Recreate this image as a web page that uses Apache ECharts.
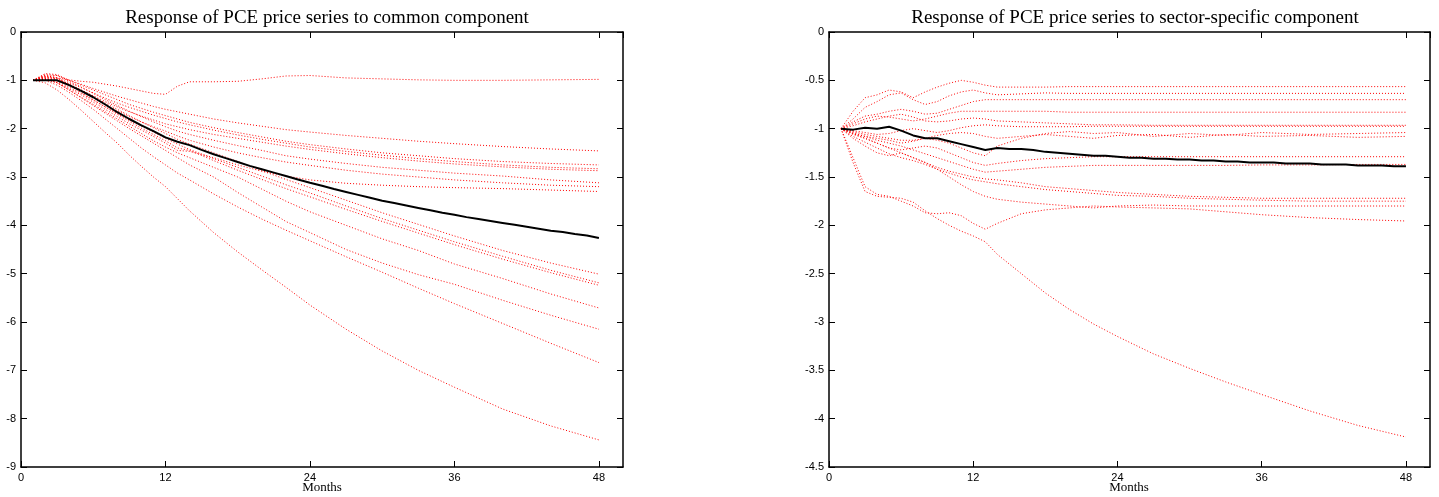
<!DOCTYPE html>
<html>
<head>
<meta charset="utf-8">
<script src="https://cdn.jsdelivr.net/npm/echarts@6/dist/echarts.min.js"></script>
<style>
html,body{margin:0;padding:0;background:#fff;}
#chart{width:1439px;height:497px;}
</style>
</head>
<body>
<div id="chart"></div>
<script>
// ---- data ----
const titles = ['Response of PCE price series to common component', 'Response of PCE price series to sector-specific component'];
const xAxisName = 'Months';
const xTicks = [0, 12, 24, 36, 48];
const monthsAll = [1,2,3,4,5,6,7,8,9,10,11,12,13,14,15,16,17,18,19,20,21,22,23,24,25,26,27,28,29,30,31,32,33,34,35,36,37,38,39,40,41,42,43,44,45,46,47,48];
const monthsRed = [1,2,3,4,5,6,7,8,9,10,11,12,13,14,16,18,20,22,24,27,30,33,36,40,44,48];

// common component: mean response (black)
const commonMean = [-1,-1,-1,-1.1,-1.22,-1.35,-1.5,-1.66,-1.8,-1.93,-2.05,-2.18,-2.27,-2.34,-2.44,-2.53,-2.61,-2.69,-2.77,-2.84,-2.91,-2.98,-3.05,-3.12,-3.18,-3.25,-3.31,-3.37,-3.43,-3.49,-3.54,-3.59,-3.64,-3.69,-3.74,-3.78,-3.83,-3.87,-3.91,-3.95,-3.99,-4.03,-4.07,-4.11,-4.14,-4.18,-4.21,-4.26];
// common component: individual sectors (red dotted)
const cA = [-1,-0.93,-0.95,-0.99,-1.02,-1.04,-1.08,-1.12,-1.17,-1.22,-1.27,-1.29,-1.12,-1.03,-1.03,-1.02,-0.97,-0.91,-0.9,-0.95,-0.97,-0.99,-1.0,-1.0,-0.99,-0.98];
const cB = [-1,-0.88,-0.9,-1.0,-1.08,-1.17,-1.25,-1.33,-1.4,-1.47,-1.54,-1.6,-1.65,-1.7,-1.8,-1.88,-1.95,-2.02,-2.07,-2.14,-2.2,-2.26,-2.31,-2.37,-2.42,-2.46];
const cC = [-1,-0.86,-0.88,-1.0,-1.1,-1.2,-1.3,-1.4,-1.5,-1.58,-1.66,-1.73,-1.8,-1.87,-1.98,-2.08,-2.17,-2.26,-2.33,-2.42,-2.5,-2.56,-2.62,-2.68,-2.72,-2.75];
const cD = [-1,-0.9,-0.95,-1.05,-1.15,-1.26,-1.37,-1.47,-1.56,-1.64,-1.72,-1.79,-1.86,-1.92,-2.03,-2.13,-2.22,-2.3,-2.38,-2.47,-2.55,-2.62,-2.68,-2.75,-2.8,-2.83];
const cE = [-1,-0.95,-0.97,-1.08,-1.2,-1.32,-1.44,-1.55,-1.65,-1.74,-1.82,-1.9,-1.96,-2.02,-2.12,-2.2,-2.28,-2.36,-2.43,-2.52,-2.6,-2.67,-2.73,-2.79,-2.84,-2.87];
const cF = [-1,-0.92,-0.9,-1.02,-1.14,-1.27,-1.4,-1.52,-1.64,-1.75,-1.86,-1.96,-2.05,-2.12,-2.24,-2.35,-2.45,-2.56,-2.63,-2.72,-2.8,-2.86,-2.92,-2.98,-3.06,-3.12];
const cG = [-1,-0.97,-1.0,-1.1,-1.22,-1.36,-1.5,-1.63,-1.75,-1.86,-1.96,-2.05,-2.15,-2.24,-2.38,-2.5,-2.6,-2.69,-2.76,-2.86,-2.94,-3.0,-3.06,-3.12,-3.17,-3.2];
const cH = [-1,-0.98,-1.05,-1.17,-1.3,-1.45,-1.6,-1.75,-1.9,-2.03,-2.16,-2.3,-2.45,-2.47,-2.6,-2.75,-2.88,-2.98,-3.06,-3.13,-3.17,-3.2,-3.22,-3.24,-3.27,-3.3];
const cI = [-1,-0.93,-0.97,-1.08,-1.2,-1.33,-1.47,-1.6,-1.73,-1.86,-1.98,-2.1,-2.22,-2.32,-2.5,-2.68,-2.87,-3.05,-3.22,-3.48,-3.74,-3.98,-4.22,-4.52,-4.78,-5.01];
const cJ = [-1,-0.96,-1.02,-1.14,-1.27,-1.41,-1.55,-1.69,-1.82,-1.95,-2.07,-2.2,-2.32,-2.43,-2.62,-2.8,-2.98,-3.16,-3.33,-3.6,-3.86,-4.1,-4.34,-4.64,-4.93,-5.19];
const cK = [-1,-0.9,-0.95,-1.1,-1.25,-1.4,-1.55,-1.7,-1.85,-1.99,-2.12,-2.25,-2.4,-2.45,-2.66,-2.86,-3.05,-3.24,-3.41,-3.67,-3.92,-4.16,-4.4,-4.7,-4.98,-5.24];
const cL = [-1,-0.98,-1.05,-1.2,-1.35,-1.5,-1.65,-1.8,-1.95,-2.1,-2.25,-2.38,-2.5,-2.6,-2.8,-3.0,-3.25,-3.5,-3.72,-4.0,-4.28,-4.52,-4.8,-5.1,-5.42,-5.71];
const cM = [-1,-0.95,-1.05,-1.2,-1.36,-1.52,-1.68,-1.84,-2.0,-2.15,-2.3,-2.45,-2.6,-2.75,-3.0,-3.32,-3.62,-3.92,-4.15,-4.5,-4.78,-5.02,-5.22,-5.55,-5.86,-6.15];
const cN = [-1,-1.0,-1.1,-1.25,-1.42,-1.6,-1.8,-2.0,-2.2,-2.4,-2.58,-2.75,-2.92,-3.06,-3.35,-3.62,-3.87,-4.1,-4.32,-4.65,-4.97,-5.3,-5.62,-6.03,-6.44,-6.84];
const cO = [-1,-1.05,-1.2,-1.4,-1.62,-1.85,-2.08,-2.3,-2.55,-2.78,-3.0,-3.2,-3.45,-3.7,-4.15,-4.55,-4.92,-5.28,-5.65,-6.15,-6.6,-7.0,-7.35,-7.8,-8.15,-8.44];

// sector-specific component: mean response (black)
const sectorMean = [-1.0,-1.01,-0.99,-1.0,-0.98,-1.02,-1.07,-1.1,-1.1,-1.13,-1.16,-1.19,-1.22,-1.2,-1.21,-1.21,-1.22,-1.24,-1.25,-1.26,-1.27,-1.28,-1.28,-1.29,-1.3,-1.3,-1.31,-1.31,-1.32,-1.32,-1.33,-1.33,-1.34,-1.34,-1.35,-1.35,-1.35,-1.36,-1.36,-1.36,-1.37,-1.37,-1.37,-1.38,-1.38,-1.38,-1.39,-1.39];
// sector-specific component: individual sectors (red dotted)
const sA = [-1,-0.82,-0.68,-0.65,-0.6,-0.62,-0.68,-0.62,-0.57,-0.53,-0.5,-0.52,-0.55,-0.57,-0.57,-0.57,-0.565,-0.565,-0.565,-0.565,-0.565,-0.565,-0.565,-0.565,-0.565,-0.565];
const sB = [-1,-0.9,-0.78,-0.72,-0.65,-0.63,-0.7,-0.75,-0.72,-0.66,-0.62,-0.6,-0.63,-0.65,-0.64,-0.63,-0.635,-0.635,-0.635,-0.635,-0.635,-0.635,-0.635,-0.635,-0.635,-0.635];
const sC = [-1,-0.93,-0.87,-0.85,-0.82,-0.8,-0.82,-0.85,-0.84,-0.8,-0.76,-0.72,-0.7,-0.7,-0.7,-0.7,-0.7,-0.7,-0.7,-0.7,-0.7,-0.7,-0.7,-0.7,-0.7,-0.7];
const sD = [-1,-0.95,-0.9,-0.87,-0.88,-0.9,-0.92,-0.9,-0.87,-0.84,-0.82,-0.82,-0.82,-0.82,-0.82,-0.82,-0.83,-0.83,-0.83,-0.83,-0.83,-0.83,-0.83,-0.83,-0.83,-0.83];
const sE = [-1,-0.97,-0.93,-0.9,-0.87,-0.85,-0.88,-0.92,-0.93,-0.92,-0.9,-0.89,-0.9,-0.92,-0.93,-0.94,-0.95,-0.96,-0.96,-0.965,-0.965,-0.965,-0.965,-0.965,-0.965,-0.965];
const sF = [-1,-1.02,-1.04,-1.06,-1.05,-1.02,-1.0,-1.02,-1.04,-1.02,-0.99,-0.97,-0.96,-0.97,-0.98,-0.98,-0.98,-0.975,-0.975,-0.975,-0.975,-0.975,-0.975,-0.975,-0.975,-0.975];
const sG = [-1,-1.03,-1.06,-1.08,-1.1,-1.12,-1.12,-1.1,-1.12,-1.15,-1.2,-1.25,-1.28,-1.18,-1.1,-1.05,-1.03,-1.05,-1.04,-1.08,-1.05,-1.07,-1.04,-1.06,-1.05,-1.04];
const sH = [-1,-1.05,-1.08,-1.1,-1.12,-1.15,-1.13,-1.1,-1.07,-1.05,-1.04,-1.05,-1.08,-1.1,-1.08,-1.06,-1.08,-1.1,-1.07,-1.06,-1.09,-1.06,-1.08,-1.07,-1.09,-1.08];
const sI = [-1,-1.05,-1.1,-1.15,-1.2,-1.22,-1.2,-1.18,-1.2,-1.25,-1.3,-1.35,-1.38,-1.36,-1.33,-1.31,-1.3,-1.29,-1.29,-1.29,-1.29,-1.29,-1.29,-1.29,-1.29,-1.29];
const sJ = [-1,-1.04,-1.08,-1.12,-1.15,-1.18,-1.22,-1.26,-1.3,-1.34,-1.38,-1.42,-1.45,-1.44,-1.42,-1.4,-1.39,-1.38,-1.38,-1.38,-1.38,-1.38,-1.375,-1.375,-1.37,-1.37];
const sK = [-1,-1.06,-1.1,-1.15,-1.2,-1.25,-1.3,-1.35,-1.4,-1.44,-1.47,-1.5,-1.52,-1.53,-1.56,-1.6,-1.62,-1.64,-1.66,-1.68,-1.7,-1.71,-1.72,-1.72,-1.72,-1.72];
const sL = [-1,-1.08,-1.14,-1.2,-1.26,-1.3,-1.33,-1.37,-1.42,-1.46,-1.5,-1.53,-1.55,-1.57,-1.6,-1.63,-1.65,-1.67,-1.69,-1.7,-1.72,-1.73,-1.74,-1.75,-1.75,-1.75];
const sM = [-1,-1.1,-1.18,-1.25,-1.28,-1.25,-1.3,-1.35,-1.42,-1.5,-1.58,-1.65,-1.7,-1.73,-1.76,-1.78,-1.8,-1.82,-1.8,-1.79,-1.8,-1.8,-1.8,-1.8,-1.8,-1.8];
const sN = [-1,-1.3,-1.6,-1.68,-1.7,-1.75,-1.8,-1.87,-1.88,-1.87,-1.9,-1.98,-2.04,-1.98,-1.88,-1.84,-1.82,-1.8,-1.81,-1.82,-1.83,-1.86,-1.89,-1.92,-1.94,-1.955];
const sO = [-1,-1.35,-1.65,-1.7,-1.71,-1.72,-1.76,-1.85,-1.93,-2.0,-2.06,-2.11,-2.17,-2.3,-2.5,-2.7,-2.87,-3.02,-3.15,-3.33,-3.48,-3.62,-3.75,-3.92,-4.07,-4.19];

const commonRed = [cA,cB,cC,cD,cE,cF,cG,cH,cI,cJ,cK,cL,cM,cN,cO];
const sectorRed = [sA,sB,sC,sD,sE,sF,sG,sH,sI,sJ,sK,sL,sM,sN,sO];

// ---- chart ----
const chart = echarts.init(document.getElementById('chart'), null, {renderer: 'canvas'});
const SANS = 'Liberation Sans, Arial, sans-serif';
const SERIF = 'Liberation Serif, Times New Roman, serif';

function pairs(xs, ys) { return ys.map((v, i) => [xs[i], v]); }

const grids = [
  {left: 21, top: 32, width: 602, height: 435, containLabel: false, outerBoundsMode: 'none'},
  {left: 829, top: 32, width: 601, height: 435, containLabel: false, outerBoundsMode: 'none'}
];
const lineStyleAxis = {color: '#000', width: 1.5};
function xAx(g, pos, show) {
  return {
    type: 'value', gridIndex: g, position: pos, min: 0, max: 50, interval: 12,
    axisLine: {show: true, onZero: false, lineStyle: lineStyleAxis},
    axisTick: {show: true, inside: true, length: 6, lineStyle: {color: '#000', width: 1}},
    splitLine: {show: false},
    axisLabel: {show: show, color: '#000', fontFamily: SANS, fontSize: 11, margin: 5, showMaxLabel: false,
      formatter: v => (xTicks.indexOf(v) >= 0 ? String(v) : '')}
  };
}
function yAx(g, pos, show, min, interval) {
  return {
    type: 'value', gridIndex: g, position: pos, min: min, max: 0, interval: interval,
    axisLine: {show: true, onZero: false, lineStyle: lineStyleAxis},
    axisTick: {show: true, inside: true, length: 6, lineStyle: {color: '#000', width: 1}},
    splitLine: {show: false},
    axisLabel: {show: show, color: '#000', fontFamily: SANS, fontSize: 11, margin: 5}
  };
}

const redStyle = {color: '#ff0000', width: 1, type: [1, 2]};
const series = [];
commonRed.forEach(arr => series.push({
  type: 'line', xAxisIndex: 0, yAxisIndex: 0, data: pairs(monthsRed, arr), symbol: 'none',
  lineStyle: redStyle, silent: true, z: 2
}));
series.push({type: 'line', xAxisIndex: 0, yAxisIndex: 0, data: pairs(monthsAll, commonMean), symbol: 'none',
  lineStyle: {color: '#000', width: 2}, z: 3});
sectorRed.forEach(arr => series.push({
  type: 'line', xAxisIndex: 2, yAxisIndex: 2, data: pairs(monthsRed, arr), symbol: 'none',
  lineStyle: redStyle, silent: true, z: 2
}));
series.push({type: 'line', xAxisIndex: 2, yAxisIndex: 2, data: pairs(monthsAll, sectorMean), symbol: 'none',
  lineStyle: {color: '#000', width: 2}, z: 3});

chart.setOption({
  animation: false,
  backgroundColor: '#fff',
  title: [
    {text: titles[0], left: 322, top: 4, textAlign: 'center',
      textStyle: {fontFamily: SERIF, fontSize: 19, fontWeight: 'normal', color: '#000'}},
    {text: titles[1], left: 1130, top: 4, textAlign: 'center',
      textStyle: {fontFamily: SERIF, fontSize: 19, fontWeight: 'normal', color: '#000'}}
  ],
  graphic: [
    {type: 'text', x: 322, y: 488, style: {text: xAxisName, fontFamily: SERIF, fontSize: 13, fill: '#000', textAlign: 'center', textVerticalAlign: 'middle'}},
    {type: 'text', x: 1129, y: 488, style: {text: xAxisName, fontFamily: SERIF, fontSize: 13, fill: '#000', textAlign: 'center', textVerticalAlign: 'middle'}}
  ],
  grid: grids,
  xAxis: [xAx(0, 'bottom', true), xAx(0, 'top', false), xAx(1, 'bottom', true), xAx(1, 'top', false)],
  yAxis: [yAx(0, 'left', true, -9, 1), yAx(0, 'right', false, -9, 1), yAx(1, 'left', true, -4.5, 0.5), yAx(1, 'right', false, -4.5, 0.5)],
  series: series
});
</script>
</body>
</html>
